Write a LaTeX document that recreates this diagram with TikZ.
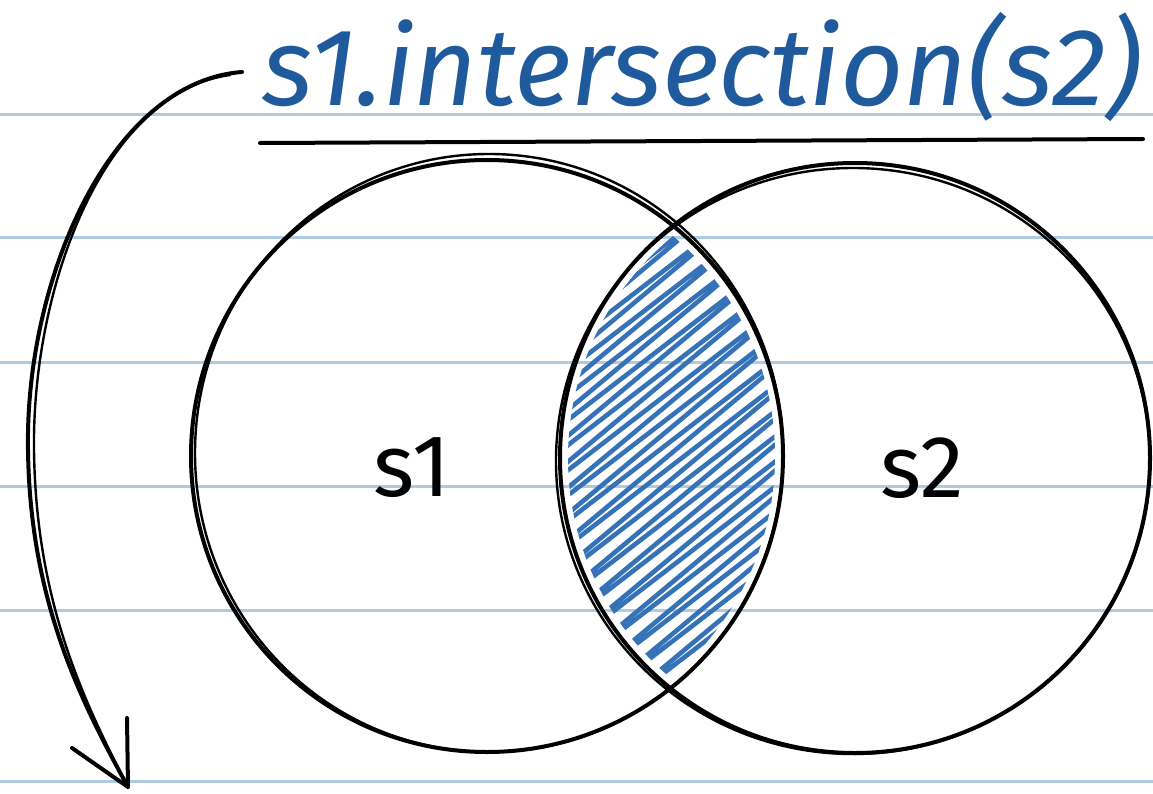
\documentclass[tikz,border=0pt]{standalone}
\usepackage{fontspec}
\setmainfont{Fira Sans}
\definecolor{penblue}{HTML}{1F5A9C}
\definecolor{hatchblue}{HTML}{3672B8}
\definecolor{ruleblue}{HTML}{AECBE0}
\tikzset{
  ruling/.style={ruleblue, line width=3pt},
  sketch/.style={black, line width=4pt},
  sketchthin/.style={black, line width=2.4pt},
  hatch/.style={hatchblue, line width=4.6pt, line join=round, line cap=round},
  title/.style={penblue, font=\fontsize{110}{120}\selectfont\itshape, inner sep=0pt},
  setlabel/.style={black, font=\fontsize{88}{96}\selectfont, inner sep=0pt},
}
\begin{document}
\begin{tikzpicture}[x=1pt,y=-1pt]
\useasboundingbox (0,0) rectangle (1153,794);
\fill[white] (0,0) rectangle (1153,794);
% ruled paper
\foreach \yy in {115,238,362,486,610,781}
  \draw[ruling] (0,\yy) -- (1153,\yy);
% hatching of the intersection
\begin{scope}
  \clip (487,456) circle (288);
  \clip (855,458) circle (287);
  \draw[hatch] ({672+(596-774)*0.62-260*0.78},{458+(596-774)*0.78+260*0.62})
    \foreach \c in {596,616,...,968}{
      -- ({672+(\c+8-774)*0.62+260*0.78},{458+(\c+8-774)*0.78-260*0.62})
      -- ({672+(\c+20-774)*0.62-260*0.78},{458+(\c+20-774)*0.78+260*0.62})
    };
\end{scope}
% circles
\node[circle, minimum size=592pt, inner sep=0pt] (c1) at (487,456) {};
\node[circle, minimum size=590pt, inner sep=0pt] (c2) at (855,458) {};
\draw[sketch] (c1.center) circle (296);
\draw[sketchthin] (489,453) ellipse [x radius=294, y radius=299];
\draw[sketch] (c2.center) circle (295);
\draw[sketchthin] (853,461) ellipse [x radius=297, y radius=293];
% labels
\node[setlabel] (l1) at (412,468) {s1};
\node[setlabel] (l2) at (922,468) {s2};
% title and underline
\node[title, anchor=base west] (t) at (262,106) {s1.intersection(s2)};
\coordinate (u1) at (260,143);
\coordinate (u2) at (1143,139);
\draw[black, line width=4pt, line cap=round] (u1) -- (u2);
% curved arrow
\coordinate (astart) at (242,72);
\coordinate (aend) at (128,787);
\draw[sketch, line cap=round] (astart) .. controls (110,82) and (25,280) .. (28,450)
   .. controls (30,600) and (80,700) .. (aend);
\draw[sketchthin, line cap=round] (230,75) .. controls (105,92) and (32,285) .. (34,450)
   .. controls (36,600) and (82,698) .. (aend);
\draw[sketch, line cap=round, line join=round] (72,748) -- (aend) -- (127,718);
\end{tikzpicture}
\end{document}
